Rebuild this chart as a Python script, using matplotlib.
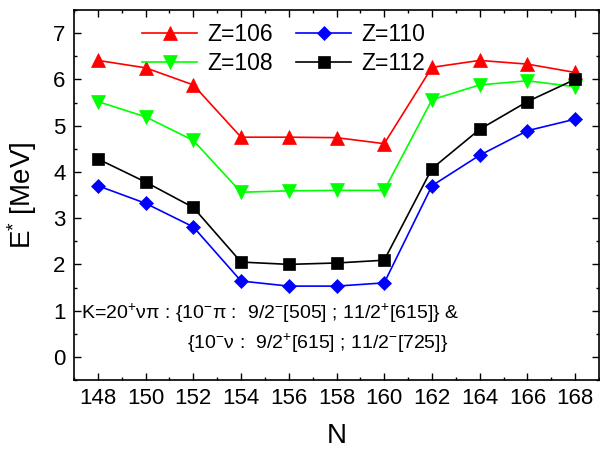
import matplotlib
matplotlib.use("Agg")
import matplotlib.pyplot as plt
from matplotlib.ticker import MultipleLocator

plt.rcParams['font.family'] = ['Liberation Sans', 'DejaVu Sans']
plt.rcParams['mathtext.fontset'] = 'custom'
plt.rcParams['mathtext.rm'] = 'Liberation Sans'
plt.rcParams['mathtext.it'] = 'Liberation Sans:italic'

N = [148, 150, 152, 154, 156, 158, 160, 162, 164, 166, 168]
z106 = [6.41, 6.25, 5.88, 4.75, 4.75, 4.74, 4.61, 6.26, 6.41, 6.33, 6.15]
z108 = [5.52, 5.19, 4.68, 3.56, 3.59, 3.60, 3.60, 5.56, 5.88, 5.97, 5.84]
z110 = [3.70, 3.32, 2.81, 1.64, 1.53, 1.53, 1.60, 3.70, 4.36, 4.89, 5.14]
z112 = [4.28, 3.78, 3.23, 2.05, 2.00, 2.03, 2.09, 4.07, 4.92, 5.52, 6.00]

fig = plt.figure(figsize=(6, 4.5), dpi=100)
ax = fig.add_axes([74/600, 1 - 380/450, 525/600, 370/450])

ax.plot(N, z106, color='red', marker='^', ms=9.5, lw=1.2, mew=0.5, label='Z=106')
ax.plot(N, z108, color='#00ff00', marker='v', ms=9.5, lw=1.2, mew=0.5, label='Z=108')
ax.plot(N, z110, color='blue', marker='D', ms=7.5, lw=1.2, mew=0.5, label='Z=110')
ax.plot(N, z112, color='black', marker='s', ms=8.5, lw=1.2, mew=0.5, label='Z=112')

ax.set_xlim(147, 169)
ax.set_ylim(-0.5, 7.5)
ax.xaxis.set_major_locator(MultipleLocator(2))
ax.xaxis.set_minor_locator(MultipleLocator(1))
ax.yaxis.set_major_locator(MultipleLocator(1))
ax.yaxis.set_minor_locator(MultipleLocator(0.5))
ax.tick_params(which='both', direction='in', top=True, right=True, labelsize=16, width=1)
ax.tick_params(which='major', length=5)
ax.tick_params(which='minor', length=2.5)
ax.tick_params(axis='x', which='major', pad=6)
ax.tick_params(axis='y', which='major', pad=6)
for s in ax.spines.values():
    s.set_linewidth(1.2)

ax.set_xlabel('N', fontsize=20, labelpad=10)
ax.set_ylabel('E$^{*}$ [MeV]', fontsize=20, labelpad=10)

ax.legend(ncol=2, loc='upper left', bbox_to_anchor=(0.13, 0.965), frameon=False,
          fontsize=16.5, numpoints=1, handlelength=2.4, handletextpad=0.45,
          columnspacing=1.0, labelspacing=0.25, borderpad=0, borderaxespad=0)

ax.text(148 - 0.7, 0.95, r'K=20$^{+}$νπ : {10$^{-}$π :  9/2$^{-}$[505] ; 11/2$^{+}$[615]} &',
        fontsize=14, va='center', ha='left')
ax.text(148 - 0.7 + 4.45, 0.3, r'{10$^{-}$ν :  9/2$^{+}$[615] ; 11/2$^{-}$[725]}',
        fontsize=14, va='center', ha='left')

fig.savefig('out.png', dpi=100)
